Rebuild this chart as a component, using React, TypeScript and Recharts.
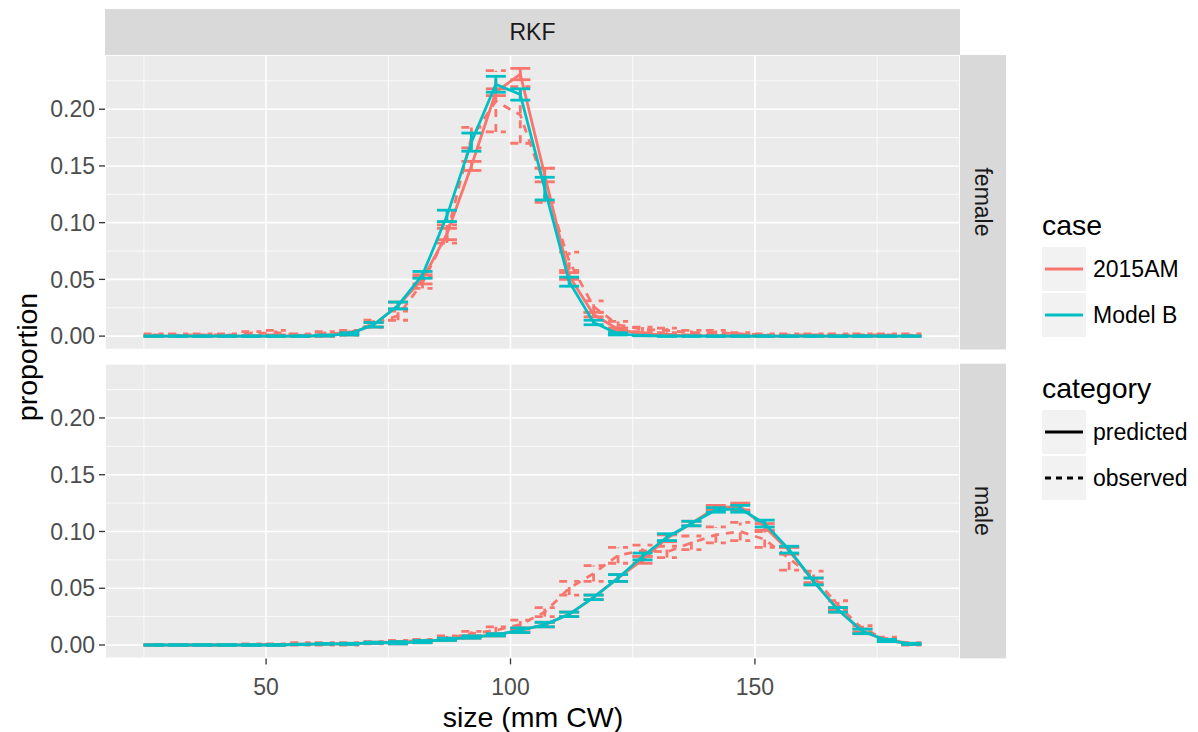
import React from 'react';
import { ComposedChart, Line, XAxis, YAxis, CartesianGrid, ErrorBar } from 'recharts';

const sizes = [27, 32, 37, 42, 47, 52, 57, 62, 67, 72, 77, 82, 87, 92, 97, 102, 107, 112, 117, 122, 127, 132, 137, 142, 147, 152, 157, 162, 167, 172, 177, 182];

const femalePred2015AM = [0, 0, 0, 0, 0, 0, 0, 0.0005, 0.002, 0.01, 0.027, 0.05, 0.09, 0.15, 0.215, 0.231, 0.142, 0.053, 0.019, 0.006, 0.002, 0.001, 0.0005, 0, 0, 0, 0, 0, 0, 0, 0, 0];
const femaleErr2015AM = [0.0002, 0.0002, 0.0002, 0.0002, 0.0002, 0.0002, 0.0002, 0.0005, 0.001, 0.002, 0.003, 0.004, 0.005, 0.004, 0.003, 0.005, 0.006, 0.003, 0.002, 0.001, 0.001, 0.0005, 0.0002, 0.0002, 0.0002, 0.0002, 0.0002, 0.0002, 0.0002, 0.0002, 0.0002, 0.0002];
const femalePredModelB = [0, 0, 0, 0, 0, 0, 0, 0.0005, 0.002, 0.01, 0.027, 0.054, 0.106, 0.171, 0.222, 0.213, 0.13, 0.048, 0.012, 0.002, 0.0005, 0, 0, 0, 0, 0, 0, 0, 0, 0, 0, 0];
const femaleErrModelB = [0.0002, 0.0002, 0.0002, 0.0002, 0.0002, 0.0002, 0.0002, 0.0005, 0.001, 0.002, 0.003, 0.003, 0.005, 0.008, 0.007, 0.005, 0.01, 0.004, 0.002, 0.001, 0.0002, 0.0002, 0.0002, 0.0002, 0.0002, 0.0002, 0.0002, 0.0002, 0.0002, 0.0002, 0.0002, 0.0002];
const femaleObs = [0.001, 0.001, 0.001, 0.001, 0.002, 0.003, 0.001, 0.002, 0.003, 0.011, 0.018, 0.047, 0.09, 0.175, 0.207, 0.195, 0.133, 0.066, 0.026, 0.01, 0.006, 0.005, 0.003, 0.003, 0.002, 0.001, 0.001, 0.001, 0.001, 0.001, 0.001, 0.001];
const femaleObsErr = [0.001, 0.001, 0.001, 0.001, 0.002, 0.002, 0.001, 0.002, 0.002, 0.003, 0.004, 0.005, 0.008, 0.009, 0.027, 0.025, 0.015, 0.008, 0.005, 0.003, 0.002, 0.002, 0.002, 0.002, 0.001, 0.001, 0.001, 0.001, 0.001, 0.001, 0.001, 0.001];

const malePred2015AM = [0, 0, 0, 0, 0, 0, 0.0005, 0.001, 0.001, 0.002, 0.002, 0.003, 0.005, 0.007, 0.009, 0.013, 0.018, 0.027, 0.042, 0.059, 0.075, 0.094, 0.107, 0.121, 0.122, 0.104, 0.083, 0.056, 0.031, 0.012, 0.004, 0.001];
const maleErr2015AM = [0.0002, 0.0002, 0.0002, 0.0002, 0.0002, 0.0002, 0.0002, 0.0002, 0.0005, 0.0005, 0.001, 0.001, 0.001, 0.001, 0.001, 0.002, 0.002, 0.002, 0.002, 0.003, 0.003, 0.003, 0.002, 0.002, 0.003, 0.003, 0.003, 0.003, 0.002, 0.002, 0.001, 0.0005];
const malePredModelB = [0, 0, 0, 0, 0, 0, 0.0005, 0.001, 0.001, 0.002, 0.002, 0.003, 0.005, 0.007, 0.009, 0.013, 0.018, 0.027, 0.042, 0.059, 0.078, 0.095, 0.107, 0.119, 0.12, 0.107, 0.084, 0.056, 0.031, 0.012, 0.004, 0.001];
const maleErrModelB = [0.0002, 0.0002, 0.0002, 0.0002, 0.0002, 0.0002, 0.0002, 0.0002, 0.0005, 0.0005, 0.001, 0.001, 0.001, 0.001, 0.001, 0.002, 0.002, 0.002, 0.002, 0.003, 0.003, 0.003, 0.002, 0.002, 0.003, 0.003, 0.003, 0.003, 0.002, 0.002, 0.001, 0.0005];
const maleObs = [0, 0, 0, 0, 0.0005, 0.0005, 0.001, 0.001, 0.001, 0.002, 0.003, 0.004, 0.006, 0.01, 0.013, 0.018, 0.029, 0.05, 0.063, 0.079, 0.083, 0.082, 0.09, 0.097, 0.1, 0.093, 0.076, 0.06, 0.035, 0.014, 0.005, 0.001];
const maleObsErr = [0.0002, 0.0002, 0.0002, 0.0002, 0.0005, 0.0005, 0.001, 0.001, 0.001, 0.001, 0.001, 0.001, 0.002, 0.002, 0.003, 0.004, 0.004, 0.006, 0.007, 0.007, 0.005, 0.005, 0.006, 0.007, 0.008, 0.007, 0.01, 0.005, 0.004, 0.003, 0.002, 0.001];

const xMajorTicks = [50, 100, 150];
const xMinorTicks = [25, 75, 125, 175];
const yMajorTicks = [0, 0.05, 0.1, 0.15, 0.2];
const yMinorTicks = [0.025, 0.075, 0.125, 0.175, 0.225];
const caseNames = ['2015AM', 'Model B'];
const categoryNames = ['predicted', 'observed'];

const RED = '#F8766D';
const CYAN = '#00BFC4';
const FONT = '"Liberation Sans", Arial, Helvetica, sans-serif';
const X_DOMAIN: [number, number] = [17.05, 191.95];
const Y_DOMAIN: [number, number] = [-0.0118, 0.2478];
const DASH = '8 7';

function buildRows(a: number[], aErr: number[], b: number[], bErr: number[], o: number[], oErr: number[]) {
  return sizes.map((s, i) => ({ size: s, a: a[i], aErr: aErr[i], b: b[i], bErr: bErr[i], o: o[i], oErr: oErr[i] }));
}

const femaleRows = buildRows(femalePred2015AM, femaleErr2015AM, femalePredModelB, femaleErrModelB, femaleObs, femaleObsErr);
const maleRows = buildRows(malePred2015AM, maleErr2015AM, malePredModelB, maleErrModelB, maleObs, maleObsErr);

type PanelProps = { rows: any[]; top: number; height: number; mTop: number; mBottom: number; showX: boolean };

function Panel({ rows, top, height, mTop, mBottom, showX }: PanelProps) {
  const lw = 2.8;
  return (
    <div style={{ position: 'absolute', left: 0, top }}>
      <ComposedChart width={1198} height={height} data={rows} margin={{ top: mTop, right: 238, bottom: mBottom, left: 45 }}>
        <XAxis xAxisId="minor" dataKey="size" type="number" domain={X_DOMAIN} ticks={xMinorTicks} allowDataOverflow hide />
        <YAxis yAxisId="minor" type="number" domain={Y_DOMAIN} ticks={yMinorTicks} allowDataOverflow hide />
        <XAxis
          xAxisId="major"
          dataKey="size"
          type="number"
          domain={X_DOMAIN}
          ticks={xMajorTicks}
          allowDataOverflow
          hide={!showX}
          height={40}
          axisLine={false}
          tickSize={6}
          tickMargin={14}
          tickLine={{ stroke: '#333333', strokeWidth: 1.3 }}
          tick={{ fill: '#4D4D4D', fontSize: 23, fontFamily: FONT }}
        />
        <YAxis
          yAxisId="major"
          type="number"
          domain={Y_DOMAIN}
          ticks={yMajorTicks}
          allowDataOverflow
          width={60}
          axisLine={false}
          tickSize={6}
          tickMargin={4}
          tickLine={{ stroke: '#333333', strokeWidth: 1.3 }}
          tick={{ fill: '#4D4D4D', fontSize: 23, fontFamily: FONT }}
          tickFormatter={(v: number) => v.toFixed(2)}
        />
        <CartesianGrid xAxisId="minor" yAxisId="minor" fill="#EBEBEB" stroke="#FFFFFF" strokeWidth={0.8} />
        <CartesianGrid xAxisId="major" yAxisId="major" stroke="#FFFFFF" strokeWidth={1.6} />
        <Line xAxisId="major" yAxisId="major" dataKey="o" stroke={RED} strokeWidth={lw} strokeDasharray={DASH} dot={false} activeDot={false} isAnimationActive={false}>
          <ErrorBar dataKey="oErr" direction="y" width={10} stroke={RED} strokeWidth={lw} strokeDasharray={DASH} isAnimationActive={false} />
        </Line>
        <Line xAxisId="major" yAxisId="major" dataKey="a" stroke={RED} strokeWidth={lw} dot={false} activeDot={false} isAnimationActive={false}>
          <ErrorBar dataKey="aErr" direction="y" width={10} stroke={RED} strokeWidth={lw} isAnimationActive={false} />
        </Line>
        <Line xAxisId="major" yAxisId="major" dataKey="b" stroke={CYAN} strokeWidth={lw} dot={false} activeDot={false} isAnimationActive={false}>
          <ErrorBar dataKey="bErr" direction="y" width={10} stroke={CYAN} strokeWidth={lw} isAnimationActive={false} />
        </Line>
      </ComposedChart>
    </div>
  );
}

function Overlay() {
  const keyX = 1042;
  const keyW = 44;
  const caseKeys = [
    { label: caseNames[0], color: RED, y: 247, dash: undefined as string | undefined },
    { label: caseNames[1], color: CYAN, y: 293, dash: undefined as string | undefined },
  ];
  const catKeys = [
    { label: categoryNames[0], color: '#000000', y: 410, dash: undefined as string | undefined },
    { label: categoryNames[1], color: '#000000', y: 456, dash: '6 5' },
  ];
  return (
    <svg width={1198} height={732} style={{ position: 'absolute', left: 0, top: 0, pointerEvents: 'none' }} fontFamily={FONT}>
      <rect x={105} y={9} width={855} height={46} fill="#D9D9D9" />
      <text x={532.5} y={32} fontSize={23} fill="#1A1A1A" textAnchor="middle" dominantBaseline="central">RKF</text>
      <rect x={960} y={55} width={46} height={294.5} fill="#D9D9D9" />
      <text x={983} y={202} fontSize={23} fill="#1A1A1A" textAnchor="middle" dominantBaseline="central" transform="rotate(90 983 202)">female</text>
      <rect x={960} y={363.7} width={46} height={294.7} fill="#D9D9D9" />
      <text x={983} y={511} fontSize={23} fill="#1A1A1A" textAnchor="middle" dominantBaseline="central" transform="rotate(90 983 511)">male</text>
      <text x={533} y={716.5} fontSize={28.5} fill="#000000" textAnchor="middle" dominantBaseline="central">size (mm CW)</text>
      <text x={27} y={357} fontSize={28.5} fill="#000000" textAnchor="middle" dominantBaseline="central" transform="rotate(-90 27 357)">proportion</text>
      <text x={1042} y={225} fontSize={28.5} fill="#000000" dominantBaseline="central">case</text>
      {caseKeys.map((k) => (
        <g key={k.label}>
          <rect x={keyX} y={k.y} width={keyW} height={44} fill="#F2F2F2" />
          <line x1={keyX + 3} x2={keyX + keyW - 3} y1={k.y + 22} y2={k.y + 22} stroke={k.color} strokeWidth={2.8} />
          <text x={1093} y={k.y + 22} fontSize={23} fill="#000000" dominantBaseline="central">{k.label}</text>
        </g>
      ))}
      <text x={1042} y={388} fontSize={28.5} fill="#000000" dominantBaseline="central">category</text>
      {catKeys.map((k) => (
        <g key={k.label}>
          <rect x={keyX} y={k.y} width={keyW} height={44} fill="#F2F2F2" />
          <line x1={keyX + 3} x2={keyX + keyW - 3} y1={k.y + 22} y2={k.y + 22} stroke={k.color} strokeWidth={2.8} strokeDasharray={k.dash} />
          <text x={1093} y={k.y + 22} fontSize={23} fill="#000000" dominantBaseline="central">{k.label}</text>
        </g>
      ))}
    </svg>
  );
}

export default function App() {
  return (
    <div style={{ position: 'absolute', left: 0, top: 0, width: 1198, height: 732, background: '#FFFFFF', fontFamily: FONT }}>
      <Panel rows={femaleRows} top={0} height={360} mTop={55} mBottom={10.5} showX={false} />
      <Panel rows={maleRows} top={356} height={376} mTop={7.7} mBottom={33.6} showX={true} />
      <Overlay />
    </div>
  );
}
